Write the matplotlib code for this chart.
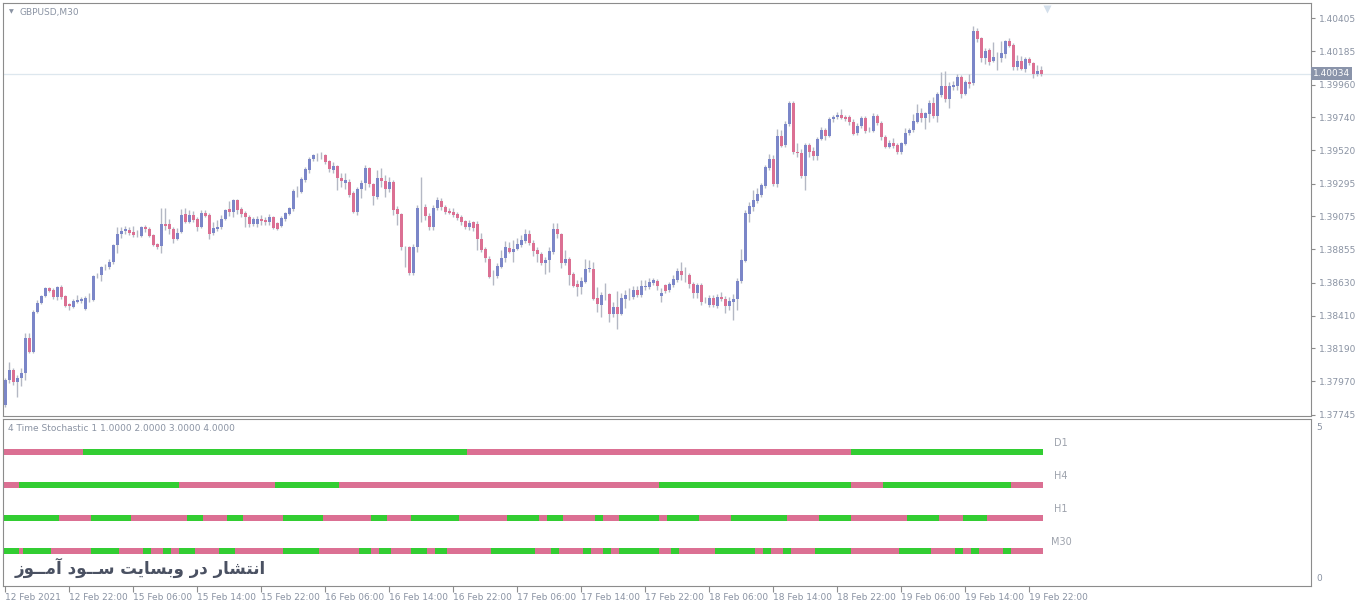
import numpy as np
import matplotlib
matplotlib.use("Agg")
import matplotlib.pyplot as plt

plt.rcParams['font.family'] = ['DejaVu Sans']

# GBPUSD M30 candles, 12 Feb 2021 14:00 .. 19 Feb 2021 23:30
opens = [
    1.37808, 1.37977, 1.38044, 1.37964, 1.37990, 1.38024, 1.38258, 1.38165, 1.38434, 1.38494,
    1.38541, 1.38594, 1.38581, 1.38534, 1.38601, 1.38541, 1.38487, 1.38467, 1.38501, 1.38507,
    1.38454, 1.38521, 1.38514, 1.38675, 1.38681, 1.38736, 1.38736, 1.38770, 1.38883, 1.38957,
    1.38977, 1.38984, 1.38971, 1.38944, 1.38944, 1.39004, 1.38991, 1.38950, 1.38890, 1.38877,
    1.39024, 1.39024, 1.38991, 1.38924, 1.38971, 1.39091, 1.39038, 1.39084, 1.39058, 1.39004,
    1.39098, 1.39084, 1.38964, 1.38991, 1.39004, 1.39058, 1.39126, 1.39105, 1.39186, 1.39126,
    1.39098, 1.39071, 1.39024, 1.39024, 1.39058, 1.39051, 1.39038, 1.39071, 1.39031, 1.39011,
    1.39058, 1.39091, 1.39126, 1.39246, 1.39240, 1.39320, 1.39387, 1.39461, 1.39487, 1.39487,
    1.39487, 1.39447, 1.39387, 1.39414, 1.39333, 1.39300, 1.39307, 1.39233, 1.39105, 1.39260,
    1.39300, 1.39400, 1.39293, 1.39206, 1.39333, 1.39313, 1.39260, 1.39307, 1.39126, 1.39091,
    1.38870, 1.38870, 1.38695, 1.38870, 1.39132, 1.39139, 1.39078, 1.39004, 1.39132, 1.39179,
    1.39139, 1.39111, 1.39105, 1.39091, 1.39071, 1.39044, 1.39004, 1.39038, 1.39024, 1.38924,
    1.38857, 1.38790, 1.38675, 1.38675, 1.38736, 1.38796, 1.38863, 1.38837, 1.38857, 1.38883,
    1.38910, 1.38957, 1.38897, 1.38850, 1.38823, 1.38763, 1.38783, 1.38837, 1.38991, 1.38957,
    1.38763, 1.38790, 1.38688, 1.38621, 1.38601, 1.38635, 1.38723, 1.38723, 1.38527, 1.38480,
    1.38554, 1.38554, 1.38420, 1.38467, 1.38420, 1.38521, 1.38541, 1.38534, 1.38581, 1.38547,
    1.38601, 1.38601, 1.38628, 1.38641, 1.38541, 1.38614, 1.38581, 1.38614, 1.38648, 1.38708,
    1.38681, 1.38681, 1.38621, 1.38561, 1.38614, 1.38501, 1.38480, 1.38527, 1.38474, 1.38534,
    1.38521, 1.38474, 1.38501, 1.38521, 1.38641, 1.38776, 1.39091, 1.39139, 1.39179, 1.39219,
    1.39280, 1.39400, 1.39461, 1.39293, 1.39616, 1.39555, 1.39696, 1.39837, 1.39508, 1.39501,
    1.39347, 1.39555, 1.39514, 1.39481, 1.39596, 1.39656, 1.39616, 1.39730, 1.39743, 1.39756,
    1.39743, 1.39743, 1.39710, 1.39636, 1.39683, 1.39736, 1.39649, 1.39649, 1.39750, 1.39703,
    1.39609, 1.39542, 1.39569, 1.39555, 1.39508, 1.39562, 1.39636, 1.39656, 1.39710, 1.39770,
    1.39736, 1.39763, 1.39837, 1.39750, 1.39890, 1.39952, 1.39864, 1.39945, 1.39952, 1.40012,
    1.39897, 1.39979, 1.39972, 1.40321, 1.40274, 1.40139, 1.40193, 1.40119, 1.40146, 1.40139,
    1.40166, 1.40253, 1.40226, 1.40079, 1.40119, 1.40066, 1.40133, 1.40106, 1.40032, 1.40059,
]
highs = [
    1.37990, 1.38098, 1.38057, 1.38010, 1.38057, 1.38292, 1.38292, 1.38447, 1.38514, 1.38547,
    1.38601, 1.38601, 1.38594, 1.38608, 1.38614, 1.38547, 1.38494, 1.38521, 1.38547, 1.38534,
    1.38541, 1.38561, 1.38681, 1.38695, 1.38743, 1.38756, 1.38790, 1.38890, 1.39004, 1.39004,
    1.39011, 1.39004, 1.39011, 1.38984, 1.39011, 1.39017, 1.39004, 1.38957, 1.38897, 1.39132,
    1.39132, 1.39058, 1.39004, 1.38997, 1.39126, 1.39132, 1.39118, 1.39111, 1.39071, 1.39118,
    1.39118, 1.39098, 1.39038, 1.39051, 1.39084, 1.39126, 1.39179, 1.39193, 1.39193, 1.39139,
    1.39111, 1.39084, 1.39071, 1.39078, 1.39084, 1.39071, 1.39091, 1.39078, 1.39038, 1.39078,
    1.39105, 1.39139, 1.39260, 1.39280, 1.39340, 1.39407, 1.39474, 1.39494, 1.39501, 1.39508,
    1.39494, 1.39454, 1.39441, 1.39420, 1.39367, 1.39367, 1.39327, 1.39246, 1.39273, 1.39320,
    1.39420, 1.39407, 1.39300, 1.39387, 1.39400, 1.39353, 1.39340, 1.39320, 1.39146, 1.39098,
    1.38877, 1.38877, 1.38890, 1.39152, 1.39340, 1.39159, 1.39098, 1.39152, 1.39206, 1.39199,
    1.39152, 1.39132, 1.39132, 1.39105, 1.39084, 1.39051, 1.39051, 1.39044, 1.39044, 1.38964,
    1.38870, 1.38810, 1.38715, 1.38763, 1.38850, 1.38910, 1.38904, 1.38917, 1.38930, 1.38950,
    1.38991, 1.38984, 1.38917, 1.38870, 1.38837, 1.38803, 1.38870, 1.39031, 1.39031, 1.38964,
    1.38850, 1.38803, 1.38702, 1.38648, 1.38668, 1.38790, 1.38783, 1.38770, 1.38601, 1.38568,
    1.38628, 1.38561, 1.38501, 1.38574, 1.38561, 1.38581, 1.38594, 1.38608, 1.38608, 1.38648,
    1.38648, 1.38661, 1.38661, 1.38655, 1.38594, 1.38621, 1.38635, 1.38681, 1.38729, 1.38770,
    1.38736, 1.38695, 1.38635, 1.38628, 1.38628, 1.38534, 1.38547, 1.38547, 1.38554, 1.38568,
    1.38541, 1.38534, 1.38554, 1.38661, 1.38857, 1.39118, 1.39172, 1.39253, 1.39266, 1.39300,
    1.39420, 1.39494, 1.39487, 1.39663, 1.39656, 1.39716, 1.39850, 1.39850, 1.39569, 1.39529,
    1.39569, 1.39569, 1.39542, 1.39609, 1.39676, 1.39669, 1.39743, 1.39756, 1.39777, 1.39797,
    1.39756, 1.39756, 1.39730, 1.39703, 1.39750, 1.39750, 1.39676, 1.39770, 1.39763, 1.39716,
    1.39622, 1.39589, 1.39602, 1.39569, 1.39576, 1.39669, 1.39669, 1.39763, 1.39830, 1.39803,
    1.39777, 1.39857, 1.39877, 1.39911, 1.40046, 1.40052, 1.39979, 1.39985, 1.40032, 1.40025,
    1.39992, 1.40032, 1.40355, 1.40341, 1.40281, 1.40206, 1.40206, 1.40247, 1.40180, 1.40253,
    1.40260, 1.40274, 1.40240, 1.40159, 1.40153, 1.40146, 1.40146, 1.40113, 1.40092, 1.40086,
]
lows = [
    1.37795, 1.37957, 1.37943, 1.37862, 1.37937, 1.37977, 1.38158, 1.38158, 1.38427, 1.38487,
    1.38534, 1.38568, 1.38521, 1.38514, 1.38521, 1.38467, 1.38447, 1.38460, 1.38494, 1.38494,
    1.38447, 1.38501, 1.38507, 1.38661, 1.38641, 1.38715, 1.38723, 1.38756, 1.38830, 1.38930,
    1.38957, 1.38950, 1.38937, 1.38937, 1.38937, 1.38971, 1.38937, 1.38877, 1.38857, 1.38830,
    1.38984, 1.38957, 1.38897, 1.38917, 1.38964, 1.39031, 1.39031, 1.39038, 1.38977, 1.38997,
    1.39071, 1.38924, 1.38950, 1.38977, 1.38991, 1.39051, 1.39078, 1.39071, 1.39091, 1.39071,
    1.39004, 1.39004, 1.39011, 1.39004, 1.39017, 1.39017, 1.39017, 1.38991, 1.38984, 1.39004,
    1.39044, 1.39084, 1.39111, 1.39206, 1.39233, 1.39307, 1.39367, 1.39447, 1.39447, 1.39461,
    1.39427, 1.39374, 1.39367, 1.39253, 1.39273, 1.39260, 1.39206, 1.39098, 1.39084, 1.39199,
    1.39253, 1.39273, 1.39152, 1.39193, 1.39273, 1.39206, 1.39240, 1.39084, 1.39017, 1.38850,
    1.38736, 1.38681, 1.38681, 1.38837, 1.39038, 1.39051, 1.38984, 1.38984, 1.39118, 1.39118,
    1.39091, 1.39091, 1.39071, 1.39051, 1.39017, 1.38991, 1.38984, 1.38977, 1.38850, 1.38837,
    1.38770, 1.38661, 1.38614, 1.38661, 1.38729, 1.38770, 1.38830, 1.38770, 1.38850, 1.38870,
    1.38897, 1.38883, 1.38810, 1.38770, 1.38749, 1.38688, 1.38702, 1.38823, 1.38930, 1.38729,
    1.38749, 1.38614, 1.38601, 1.38541, 1.38554, 1.38628, 1.38702, 1.38514, 1.38434, 1.38400,
    1.38514, 1.38367, 1.38400, 1.38320, 1.38413, 1.38460, 1.38514, 1.38521, 1.38534, 1.38534,
    1.38581, 1.38588, 1.38614, 1.38581, 1.38501, 1.38561, 1.38568, 1.38601, 1.38635, 1.38648,
    1.38635, 1.38594, 1.38527, 1.38527, 1.38480, 1.38494, 1.38467, 1.38467, 1.38460, 1.38507,
    1.38427, 1.38447, 1.38380, 1.38447, 1.38628, 1.38770, 1.39038, 1.39111, 1.39166, 1.39206,
    1.39266, 1.39387, 1.39280, 1.39273, 1.39542, 1.39542, 1.39683, 1.39494, 1.39474, 1.39333,
    1.39253, 1.39474, 1.39454, 1.39454, 1.39589, 1.39589, 1.39609, 1.39710, 1.39730, 1.39730,
    1.39716, 1.39689, 1.39622, 1.39622, 1.39669, 1.39636, 1.39643, 1.39643, 1.39689, 1.39589,
    1.39535, 1.39535, 1.39535, 1.39494, 1.39494, 1.39555, 1.39622, 1.39643, 1.39703, 1.39710,
    1.39663, 1.39710, 1.39736, 1.39710, 1.39877, 1.39844, 1.39803, 1.39924, 1.39924, 1.39870,
    1.39890, 1.39938, 1.39958, 1.40247, 1.40113, 1.40099, 1.40092, 1.40113, 1.40059, 1.40113,
    1.40139, 1.40213, 1.40059, 1.40059, 1.40059, 1.40046, 1.40092, 1.40005, 1.40019, 1.40019,
]
closes = [
    1.37977, 1.38044, 1.37964, 1.37990, 1.38024, 1.38258, 1.38165, 1.38434, 1.38494, 1.38541,
    1.38594, 1.38574, 1.38534, 1.38601, 1.38534, 1.38474, 1.38474, 1.38507, 1.38514, 1.38521,
    1.38527, 1.38524, 1.38675, 1.38678, 1.38736, 1.38739, 1.38770, 1.38883, 1.38957, 1.38977,
    1.38991, 1.38964, 1.38950, 1.38947, 1.39004, 1.38991, 1.38944, 1.38883, 1.38870, 1.39024,
    1.39011, 1.38991, 1.38924, 1.38964, 1.39084, 1.39038, 1.39084, 1.39051, 1.39004, 1.39098,
    1.39078, 1.38957, 1.38997, 1.39004, 1.39058, 1.39118, 1.39105, 1.39186, 1.39118, 1.39091,
    1.39071, 1.39024, 1.39058, 1.39058, 1.39044, 1.39038, 1.39071, 1.38997, 1.38991, 1.39064,
    1.39098, 1.39132, 1.39246, 1.39246, 1.39327, 1.39394, 1.39461, 1.39487, 1.39487, 1.39487,
    1.39441, 1.39394, 1.39414, 1.39333, 1.39313, 1.39320, 1.39219, 1.39105, 1.39260, 1.39300,
    1.39400, 1.39293, 1.39213, 1.39333, 1.39313, 1.39260, 1.39307, 1.39118, 1.39091, 1.38870,
    1.38870, 1.38695, 1.38870, 1.39132, 1.39132, 1.39078, 1.39004, 1.39132, 1.39186, 1.39139,
    1.39105, 1.39098, 1.39084, 1.39064, 1.39038, 1.39004, 1.39031, 1.38997, 1.38924, 1.38850,
    1.38796, 1.38668, 1.38675, 1.38743, 1.38796, 1.38870, 1.38837, 1.38857, 1.38890, 1.38917,
    1.38957, 1.38897, 1.38843, 1.38823, 1.38763, 1.38783, 1.38843, 1.38991, 1.38957, 1.38763,
    1.38790, 1.38681, 1.38608, 1.38601, 1.38641, 1.38723, 1.38723, 1.38521, 1.38487, 1.38547,
    1.38554, 1.38420, 1.38467, 1.38420, 1.38527, 1.38547, 1.38541, 1.38581, 1.38547, 1.38608,
    1.38608, 1.38635, 1.38648, 1.38608, 1.38561, 1.38574, 1.38621, 1.38655, 1.38708, 1.38681,
    1.38681, 1.38621, 1.38561, 1.38614, 1.38501, 1.38501, 1.38527, 1.38480, 1.38534, 1.38521,
    1.38474, 1.38507, 1.38521, 1.38641, 1.38783, 1.39098, 1.39146, 1.39186, 1.39226, 1.39286,
    1.39407, 1.39461, 1.39293, 1.39616, 1.39549, 1.39696, 1.39837, 1.39508, 1.39501, 1.39347,
    1.39555, 1.39508, 1.39481, 1.39596, 1.39656, 1.39616, 1.39730, 1.39743, 1.39756, 1.39736,
    1.39730, 1.39710, 1.39629, 1.39683, 1.39736, 1.39649, 1.39649, 1.39750, 1.39703, 1.39609,
    1.39542, 1.39569, 1.39549, 1.39508, 1.39569, 1.39636, 1.39656, 1.39716, 1.39770, 1.39736,
    1.39770, 1.39837, 1.39750, 1.39897, 1.39952, 1.39864, 1.39952, 1.39958, 1.40012, 1.39897,
    1.39979, 1.39965, 1.40321, 1.40268, 1.40139, 1.40186, 1.40113, 1.40146, 1.40146, 1.40173,
    1.40253, 1.40220, 1.40079, 1.40119, 1.40066, 1.40133, 1.40106, 1.40032, 1.40052, 1.40034,
]

price_ticks = [1.40405, 1.40185, 1.39960, 1.39740, 1.39520, 1.39295, 1.39075,
               1.38855, 1.38630, 1.38410, 1.38190, 1.37970, 1.37745]
last_price = 1.40034

time_ticks = list(range(0, 257, 16))
time_labels = ["12 Feb 2021", "12 Feb 22:00", "15 Feb 06:00", "15 Feb 14:00", "15 Feb 22:00",
               "16 Feb 06:00", "16 Feb 14:00", "16 Feb 22:00", "17 Feb 06:00", "17 Feb 14:00",
               "17 Feb 22:00", "18 Feb 06:00", "18 Feb 14:00", "18 Feb 22:00", "19 Feb 06:00",
               "19 Feb 14:00", "19 Feb 22:00"]

# stochastic state per timeframe: candle ranges where it is "up" (green), pink elsewhere
tf_names = ["D1", "H4", "H1", "M30"]
tf_levels = [4, 3, 2, 1]
d1_up = [(20, 115), (212, 259)]
h4_up = [(4, 43), (68, 83), (164, 211), (220, 251)]
h1_up = [(0, 13), (22, 31), (46, 49), (56, 59), (70, 79), (92, 95), (102, 113), (126, 133),
         (136, 139), (148, 149), (154, 163), (166, 173), (182, 195), (204, 211), (226, 233),
         (240, 245)]
m30_up = [(0, 3), (5, 11), (22, 28), (35, 36), (40, 41), (44, 47), (54, 57), (70, 78), (89, 91),
          (94, 96), (102, 105), (108, 110), (122, 132), (137, 138), (145, 146), (150, 151),
          (154, 163), (167, 168), (178, 187), (190, 191), (195, 196), (203, 211), (224, 231),
          (238, 239), (242, 243), (250, 251)]

watermark = "انتشار در وبسایت ســود آمــوز"

BULL = '#7b86c8'
BEAR = '#db7093'
WICK = '#b4b8c4'
GREEN = '#32cd32'
TXT = '#8a93a3'
FRAME = '#8c8c8c'

# matplotlib has no arabic shaping, so pick presentation forms by hand
FORMS = {
    'ا': ('\ufe8d', '\ufe8e', None, None),
    'آ': ('\ufe81', '\ufe82', None, None),
    'د': ('\ufea9', '\ufeaa', None, None),
    'ر': ('\ufead', '\ufeae', None, None),
    'ز': ('\ufeaf', '\ufeb0', None, None),
    'و': ('\ufeed', '\ufeee', None, None),
    'ب': ('\ufe8f', '\ufe90', '\ufe91', '\ufe92'),
    'ت': ('\ufe95', '\ufe96', '\ufe97', '\ufe98'),
    'س': ('\ufeb1', '\ufeb2', '\ufeb3', '\ufeb4'),
    'ش': ('\ufeb5', '\ufeb6', '\ufeb7', '\ufeb8'),
    'م': ('\ufee1', '\ufee2', '\ufee3', '\ufee4'),
    'ن': ('\ufee5', '\ufee6', '\ufee7', '\ufee8'),
    '\u06cc': ('\ufeef', '\ufef0', '\ufef3', '\ufef4'),
    '\u064a': ('\ufef1', '\ufef2', '\ufef3', '\ufef4'),
}
TATWEEL = '\u0640'


def shape(text):
    out = []
    for i, ch in enumerate(text):
        if ch not in FORMS:
            out.append(ch)
            continue
        prev = text[i - 1] if i > 0 else ''
        nxt = text[i + 1] if i + 1 < len(text) else ''
        iso, fin, ini, med = FORMS[ch]
        join_prev = prev == TATWEEL or (prev in FORMS and FORMS[prev][2] is not None)
        join_next = ini is not None and (nxt == TATWEEL or nxt in FORMS)
        if join_prev and join_next:
            out.append(med)
        elif join_prev:
            out.append(fin)
        elif join_next:
            out.append(ini)
        else:
            out.append(iso)
    return ''.join(reversed(out))


W, H = 1360, 605
fig = plt.figure(figsize=(W / 100, H / 100), dpi=100)
fig.patch.set_facecolor('white')
ax = fig.add_axes([3 / W, 1 - 416 / H, 1308 / W, 413 / H])
ax2 = fig.add_axes([3 / W, 1 - 586 / H, 1308 / W, 167 / H])

o = np.array(opens)
h = np.array(highs)
l = np.array(lows)
c = np.array(closes)
idx = np.arange(len(c))

# candles
ax.axhline(last_price, color='#dde7ee', lw=0.9, zorder=0)
ax.vlines(idx, l, h, color=WICK, lw=1, zorder=1)
cols = np.where(c >= o, BULL, BEAR)
body = np.maximum(np.abs(c - o), 0.00003)
ax.bar(idx, body, bottom=np.minimum(o, c), width=0.75, color=cols, linewidth=0, zorder=2)

ax.set_xlim(-0.5, 326.5)
ax.set_ylim(1.37735, 1.40509)
ax.set_xticks([])
ax.yaxis.tick_right()
ax.set_yticks(price_ticks)
ax.set_yticklabels(["%.5f" % p for p in price_ticks])
ax.tick_params(axis='y', length=3, width=0.8, color=FRAME, labelcolor=TXT, labelsize=6.5, pad=3)
for s in ax.spines.values():
    s.set_color(FRAME)

ax.text(1.0015, last_price, "%.5f" % last_price, transform=ax.get_yaxis_transform(),
        fontsize=6.5, color='white', va='center', ha='left',
        bbox=dict(boxstyle='square,pad=0.22', fc='#8a94aa', ec='none'))
ax.plot([260.5], [0.985], marker='v', ms=6, color='#d3dfeb', mec='none',
        transform=ax.get_xaxis_transform(), clip_on=False)

fig.text(9 / W, 1 - 12 / H, '\u25bc', fontsize=4.5, color=TXT, va='center')
fig.text(19 / W, 1 - 12 / H, 'GBPUSD,M30', fontsize=6.5, color=TXT, va='center')

# indicator rows
for name, level, spans in zip(tf_names, tf_levels, [d1_up, h4_up, h1_up, m30_up]):
    row = np.array([BEAR] * len(c), dtype=object)
    for a, b in spans:
        row[a:b + 1] = GREEN
    ax2.bar(idx, 0.18, bottom=level - 0.09, width=1.0, color=list(row), linewidth=0)
    ax2.text(264, level + 0.26, name, fontsize=7, color='#9ea3ad', ha='center', va='center')

ax2.set_xlim(-0.5, 326.5)
ax2.set_ylim(-0.06, 5.0)
ax2.set_yticks([])
ax2.set_xticks(time_ticks)
ax2.set_xticklabels(time_labels)
for lab in ax2.get_xticklabels():
    lab.set_ha('left')
ax2.tick_params(axis='x', length=4, width=0.8, color=FRAME, labelcolor=TXT, labelsize=6.5, pad=1)
for s in ax2.spines.values():
    s.set_color(FRAME)

ax2.text(1.004, 0.952, '5', transform=ax2.transAxes, fontsize=6.5, color=TXT, va='center')
ax2.text(1.004, 0.042, '0', transform=ax2.transAxes, fontsize=6.5, color=TXT, va='center')
ax2.text(5 / 1308, 0.946, '4 Time Stochastic 1 1.0000 2.0000 3.0000 4.0000',
         transform=ax2.transAxes, fontsize=6.5, color=TXT, va='center')
ax2.text(12 / 1308, 0.11, shape(watermark), transform=ax2.transAxes, fontsize=12,
         fontweight='bold', color='#4a5162', va='center', ha='left')

fig.savefig('out.png', dpi=100)
